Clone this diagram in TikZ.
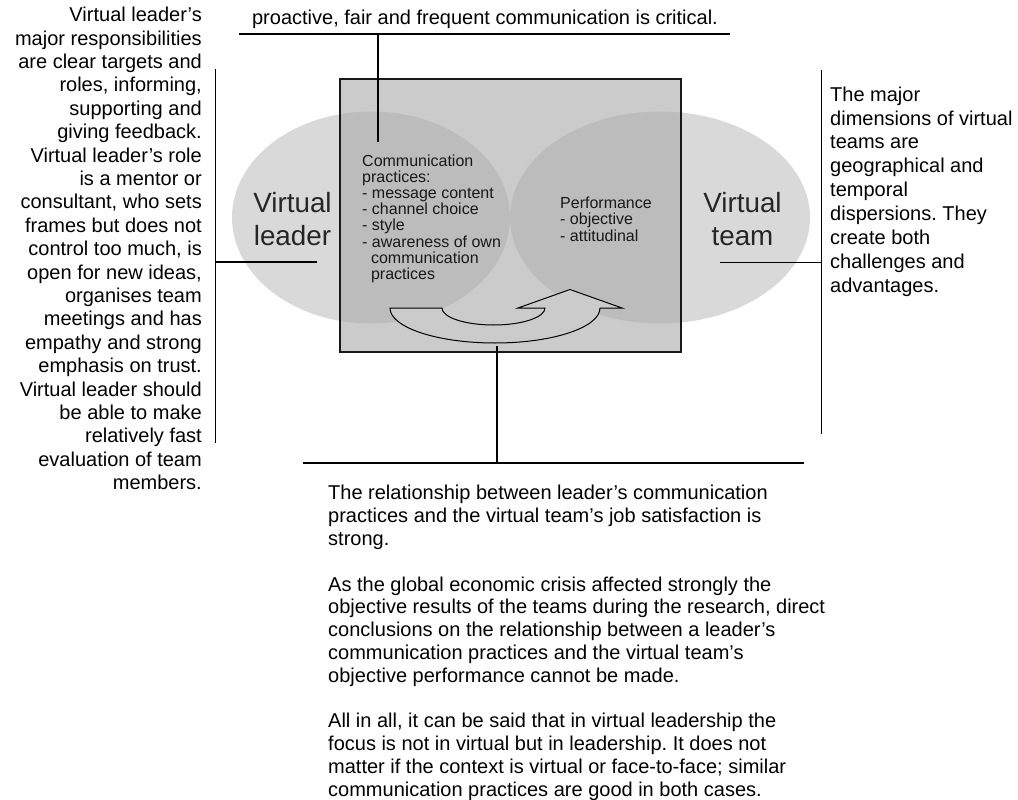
\documentclass[tikz,border=0pt]{standalone}
\usepackage{fontspec}
\setmainfont{Liberation Sans}
\frenchspacing
\begin{document}
\begin{tikzpicture}[x=1pt,y=-1pt,
  conn/.style={line width=1.4pt, black},
  body/.style={inner sep=0pt, font=\fontsize{20}{23.4}\selectfont},
  small/.style={inner sep=0pt, font=\fontsize{16}{16.2}\selectfont, text=black!90},
  big/.style={inner sep=0pt, align=center, font=\fontsize{27.8}{33.5}\selectfont, text=black!85},
  arrowshape/.style={draw=black, line width=1pt, fill=boxgray}]
\definecolor{boxgray}{HTML}{CBCBCB}
\definecolor{ellgray}{HTML}{D9D9D9}
\definecolor{overlap}{HTML}{BCBCBC}
\useasboundingbox (0,0) rectangle (1018,800);

% two overlapping spheres and the frame between them
\fill[ellgray] (371,217.5) ellipse[x radius=139, y radius=106];
\fill[ellgray] (660,217.5) ellipse[x radius=150, y radius=106];
\node[fill=boxgray, minimum width=340pt, minimum height=273pt, inner sep=0pt] (box) at (510.5,215.5) {};
\begin{scope}
  \clip (box.north west) rectangle (box.south east);
  \fill[overlap] (371,217.5) ellipse[x radius=139, y radius=106];
  \fill[overlap] (660,217.5) ellipse[x radius=150, y radius=106];
\end{scope}
\draw[line width=2pt, black!90] (box.north west) rectangle (box.south east);

% curved arrow from communication to performance
\draw[arrowshape] (390,308) -- (442,308)
  arc[start angle=180, end angle=0, x radius=51.5, y radius=17]
  -- (518,308) -- (570,289.5) -- (622,308) -- (600,308)
  arc[start angle=0, end angle=180, x radius=105, y radius=35] -- cycle;

% labels inside the diagram
\node[big, anchor=north] (vleader) at (292.5,192) {Virtual\\leader};
\node[big, anchor=north] (vteam) at (742.5,192) {Virtual\\team};
\node[small, align=left, anchor=north west] (comm) at (362,154.3)
  {Communication\\practices:\\- message content\\- channel choice\\- style\\- awareness of own\\\ \ communication\\\ \ practices};
\node[small, align=left, anchor=north west] (perf) at (560,197)
  {Performance\\- objective\\- attitudinal};

% explanatory texts
\node[body, anchor=base] (toptxt) at (485,25)
  {proactive, fair and frequent communication is critical.};
\node[body, align=right, anchor=north east] (lefttxt) at (202,7)
  {Virtual leader’s\\major responsibilities\\are clear targets and\\roles, informing,\\supporting and\\giving feedback.\\Virtual leader’s role\\is a mentor or\\consultant, who sets\\frames but does not\\control too much, is\\open for new ideas,\\organises team\\meetings and has\\empathy and strong\\emphasis on trust.\\Virtual leader should\\be able to make\\relatively fast\\evaluation of team\\members.};
\node[body, align=left, anchor=north west, font=\fontsize{20}{23.9}\selectfont] (righttxt) at (830,86.5)
  {The major\\dimensions of virtual\\teams are\\geographical and\\temporal\\dispersions. They\\create both\\challenges and\\advantages.};
\node[body, align=left, anchor=north west, font=\fontsize{20}{22.8}\selectfont] (bottxt) at (328,485.3)
  {The relationship between leader’s communication\\practices and the virtual team’s job satisfaction is\\strong.\\[22.8pt]As the global economic crisis affected strongly the\\objective results of the teams during the research, direct\\conclusions on the relationship between a leader’s\\communication practices and the virtual team’s\\objective performance cannot be made.\\[22.8pt]All in all, it can be said that in virtual leadership the\\focus is not in virtual but in leadership. It does not\\matter if the context is virtual or face-to-face; similar\\communication practices are good in both cases.};

% connector anchor points
\coordinate (commtip) at (378,142);
\coordinate (topL) at (239,34);
\coordinate (topR) at (730,34);
\coordinate (topJ) at (378,34);
\coordinate (leftT) at (215.5,69);
\coordinate (leftB) at (215.5,443);
\coordinate (leftJ) at (215.5,262);
\coordinate (leadertip) at (317,262);
\coordinate (rightT) at (821.5,70);
\coordinate (rightB) at (821.5,434);
\coordinate (rightJ) at (821.5,262.5);
\coordinate (teamtip) at (720,262.5);
\coordinate (arrowtip) at (497,346);
\coordinate (botL) at (303,463);
\coordinate (botR) at (804,463);
\coordinate (botJ) at (497,463);

% connectors
\draw[conn] (topL) -- (topR);
\draw[conn] (topJ) -- (commtip);
\draw[conn] (leftT) -- (leftB);
\draw[conn] (leftJ) -- (leadertip);
\draw[conn] (rightT) -- (rightB);
\draw[conn] (rightJ) -- (teamtip);
\draw[conn] (botL) -- (botR);
\draw[conn] (botJ) -- (arrowtip);
\end{tikzpicture}
\end{document}
